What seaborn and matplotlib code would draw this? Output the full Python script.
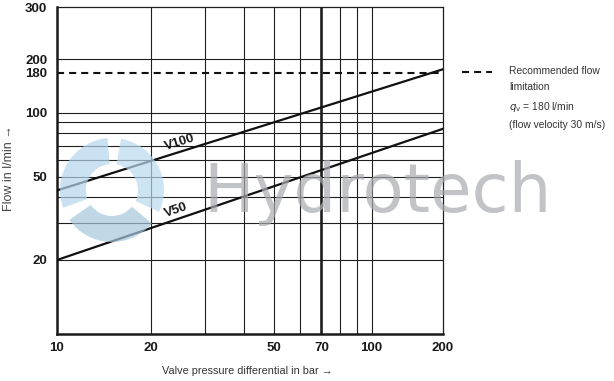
import numpy as np
import pandas as pd
import seaborn as sns
import matplotlib
matplotlib.use("Agg")
import matplotlib.pyplot as plt
from matplotlib.patches import Wedge
from matplotlib.lines import Line2D
from matplotlib.transforms import IdentityTransform
from matplotlib.ticker import FixedLocator, NullLocator

# ---------------- data ----------------
pressure_bar = [10, 200]
flow_v100 = [43, 185]
flow_v50 = [20, 84]
flow_limit = 180
x_ticks = [10, 20, 50, 70, 100, 200]
y_ticks = [20, 50, 100, 180, 200, 300]
x_grid = [20, 30, 40, 50, 60, 70, 80, 90, 100]
y_grid = [20, 30, 40, 50, 60, 70, 80, 90, 100, 200]

# ---------------- style ----------------
sns.set_theme(style="white")
FONT = ["Liberation Sans", "DejaVu Sans"]
plt.rcParams["font.family"] = FONT

# piecewise log scale mimicking the (hand drawn) chart's axis spacing
X_ANCH, X_FRAC = [10, 20, 50, 100, 200], [0.0, 0.2427, 0.562, 0.815, 1.0]
Y_ANCH, Y_FRAC = [10, 20, 50, 100, 180, 200, 300], [0.0, 0.2263, 0.481, 0.6768, 0.799, 0.840, 1.0]


def _pw(x, xp, fp):
    x = np.asarray(x, float)
    y = np.interp(x, xp, fp)
    s0 = (fp[1] - fp[0]) / (xp[1] - xp[0])
    s1 = (fp[-1] - fp[-2]) / (xp[-1] - xp[-2])
    y = np.where(x < xp[0], fp[0] + (x - xp[0]) * s0, y)
    y = np.where(x > xp[-1], fp[-1] + (x - xp[-1]) * s1, y)
    return y


def make_funcs(anch, frac):
    la = np.log10(anch)

    def fwd(v):
        v = np.clip(np.asarray(v, float), 1e-12, None)
        return _pw(np.log10(v), la, frac)

    def inv(f):
        return 10 ** _pw(f, frac, la)

    return fwd, inv


W, H = 614, 381
fig = plt.figure(figsize=(W / 100, H / 100), dpi=100)
ax = fig.add_axes([57 / W, (H - 334) / H, 386 / W, 327 / H])
ax.set_xscale("function", functions=make_funcs(X_ANCH, X_FRAC))
ax.set_yscale("function", functions=make_funcs(Y_ANCH, Y_FRAC))
ax.set_xlim(10, 200)
ax.set_ylim(10, 300)

# grid
for xv in x_grid:
    ax.axvline(xv, color="#1e1e1e", lw=1.9 if xv == 70 else 0.8, zorder=1)
for yv in y_grid:
    ax.axhline(yv, color="#1e1e1e", lw=0.8, zorder=1)

# recommended limit
ax.axhline(flow_limit, color="#111111", lw=1.5, ls=(0, (3.4, 2.4)), zorder=2)

# curves
df = pd.DataFrame({
    "p": pressure_bar * 2,
    "q": flow_v100 + flow_v50,
    "valve": ["V100"] * len(pressure_bar) + ["V50"] * len(pressure_bar),
})
sns.lineplot(data=df, x="p", y="q", hue="valve", palette=["#111111", "#111111"],
             linewidth=1.6, legend=False, ax=ax, zorder=3)

ax.text(0.3187, 0.587, "V100", transform=ax.transAxes, rotation=17.4,
        ha="center", va="center", fontsize=9.5, fontweight="bold", color="#1a1a1a")
ax.text(0.308, 0.379, "V50", transform=ax.transAxes, rotation=19,
        ha="center", va="center", fontsize=9.5, fontweight="bold", color="#1a1a1a")

# ticks
ax.xaxis.set_major_locator(FixedLocator(x_ticks))
ax.yaxis.set_major_locator(FixedLocator(y_ticks))
ax.xaxis.set_minor_locator(NullLocator())
ax.yaxis.set_minor_locator(NullLocator())
ax.set_xticklabels([str(v) for v in x_ticks])
ax.set_yticklabels([str(v) for v in y_ticks])
ax.tick_params(axis="both", length=0, labelsize=9.5, colors="#1a1a1a")
ax.tick_params(axis="x", pad=6)
ax.tick_params(axis="y", pad=7)
for lab in ax.get_xticklabels() + ax.get_yticklabels():
    lab.set_fontweight("bold")

# spines
for side in ["left", "bottom"]:
    ax.spines[side].set_linewidth(1.8)
    ax.spines[side].set_color("#1a1a1a")
for side in ["top", "right"]:
    ax.spines[side].set_linewidth(0.9)
    ax.spines[side].set_color("#1e1e1e")

ax.set_xlabel("Valve pressure differential in bar \u2192", fontsize=7.8, color="#333333")
ax.set_ylabel("Flow in l/min \u2192", fontsize=9, color="#444444")
ax.xaxis.set_label_coords(0.492, -0.098)
ax.yaxis.set_label_coords(-0.110, 0.508)

# note on the right
fig.add_artist(Line2D([462 / W, 492 / W], [(H - 72) / H] * 2, transform=fig.transFigure,
                      color="#111111", lw=1.5, ls=(0, (3.4, 2.4))))
fig.text(509 / W, (H - 66) / H,
         "Recommended flow\nlimitation\n$q_\\mathrm{v}$ = 180 l/min\n(flow velocity 30 m/s)",
         ha="left", va="top", fontsize=7.4, color="#333333", linespacing=1.75)

# watermark
for (t1, t2, col) in [(95, 200, "#b4d5ec"), (215, 320, "#a6c6dc"), (335, 80, "#b9d9ee")]:
    fig.add_artist(Wedge((112, H - 190), 52, t1, t2, width=26, transform=IdentityTransform(),
                         facecolor=col, edgecolor="none", alpha=0.7, zorder=5))
fig.text(203 / W, (H - 212) / H, "Hydrotech", fontsize=48.5, family=["DejaVu Sans"],
         color="#a8aaae", alpha=0.7, ha="left", va="baseline", zorder=6)

fig.savefig("out.png", dpi=100)
